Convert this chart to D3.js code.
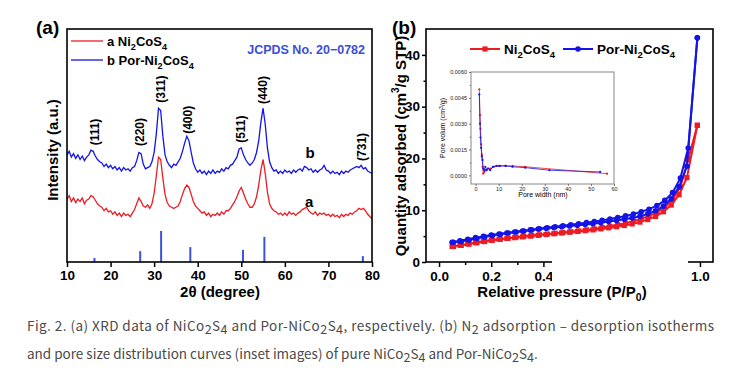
<!DOCTYPE html>
<html>
<head>
<meta charset="utf-8">
<script src="https://cdn.jsdelivr.net/npm/d3@7"></script>
<style>
  body { margin: 0; background: #fff; }
  svg { display: block; }
  .bold { font-family: "Liberation Sans", Arial, sans-serif; font-weight: bold; }
</style>
</head>
<body>
<div id="chart"></div>
<script>
// ---------- (a) XRD data, sampled every 0.5 deg from 10 to 80 ----------
var twoTheta = d3.range(10, 80.001, 0.5);

var xrdPor = [
  46, 47.5, 45, 46.5, 44.5, 46, 44, 45.5, 43.5, 45,
  46, 48, 47.5, 45.5, 44, 43, 42.5, 41, 42, 40.5,
  41.5, 40, 41, 39.5, 40.5, 39, 40.5, 39.5, 40, 39,
  40.5, 41, 43.5, 47, 46.5, 42, 40, 40.5, 41, 43,
  47, 55, 66, 65, 54, 46, 43, 41.5, 40.5, 42,
  41.5, 43, 44.5, 47.5, 51, 54, 52, 47, 42.5, 40,
  38.5, 39.5, 38, 39, 37.5, 39, 38, 39.5, 38, 39,
  38.5, 40, 39, 40.5, 40, 41.5, 42, 43.5, 45, 48.5,
  49, 46, 44, 42.5, 41.5, 42.5, 44, 47, 52, 60,
  66, 59, 49, 43, 40.5, 39, 39.5, 38, 39, 38,
  39.5, 38.5, 39, 38, 39.5, 38.5, 39.5, 40, 39, 41,
  40.5, 39.5, 40, 38.5, 39.5, 38.5, 39.5, 40, 41.5, 39.5,
  39, 38, 39, 38, 38.5, 37.5, 39, 38, 39, 38.5,
  39.5, 40, 40.5, 41, 40.5, 41.5, 40, 40.5, 39, 38.5,
  38
];

var xrdNi = [
  27, 28.5, 26, 27.5, 25.5, 27, 26, 27.5, 25, 26.5,
  27, 28.5, 28, 26.5, 25, 24, 23.5, 22, 23, 21.5,
  22, 20.5, 21.5, 20, 21, 19.5, 21, 20, 20.5, 19.5,
  21, 22.5, 25, 27.5, 26, 24, 23.5, 24.5, 23, 25,
  29.5, 37, 45, 44, 36, 29, 25.5, 24, 23.5, 23,
  23.5, 24, 26, 29, 31.5, 33, 32, 29, 26, 24,
  23, 22, 21, 21.5, 20, 21, 19.5, 20.5, 20, 21,
  20, 21.5, 20.5, 22, 22, 23, 24.5, 26, 28, 30.5,
  32, 29.5, 27, 25, 23.5, 23.5, 25, 28, 33, 39.5,
  44, 38, 30, 25, 23, 22, 21.5, 20.5, 21, 20,
  21, 20, 21.5, 20.5, 21, 20, 21, 21.5, 22.5, 23,
  23.5, 22, 21, 20.5, 21.5, 20, 21, 20.5, 21, 20,
  20.5, 19.5, 20.5, 19.5, 20, 19, 20.5, 19.5, 20.5, 20,
  21, 20.5, 21.5, 22, 23, 22.5, 23, 22, 20.5, 19.5,
  18.5
];

// JCPDS 20-0782 reference lines
var refPos = [16.3, 26.8, 31.6, 38.3, 50.4, 55.3, 77.9];
var refInt = [13, 35, 100, 48, 39, 81, 19];

// hkl labels: position (deg) and height (a.u.)
var hklText = ["(111)", "(220)", "(311)", "(400)", "(511)", "(440)", "(731)"];
var hklPos = [16.4, 26.8, 31.6, 37.8, 50.0, 55.0, 77.7];
var hklY = [55.8, 55.8, 74.2, 61, 57, 73.8, 49.4];

// ---------- (b) N2 isotherms ----------
var pAds = [0.05, 0.08, 0.11, 0.14, 0.17, 0.20, 0.23, 0.26, 0.29, 0.32, 0.35, 0.38, 0.41, 0.44, 0.47, 0.50,
            0.53, 0.56, 0.59, 0.62, 0.65, 0.68, 0.71, 0.74, 0.77, 0.80, 0.83, 0.86, 0.89, 0.92, 0.95, 0.99];
var pDes = [0.99, 0.955, 0.925, 0.895, 0.865, 0.835, 0.805, 0.775, 0.745, 0.715, 0.685, 0.655, 0.625, 0.595, 0.565, 0.535,
            0.505, 0.475, 0.445, 0.415, 0.385, 0.355, 0.325, 0.295, 0.265, 0.235, 0.205, 0.175, 0.145, 0.115, 0.085, 0.055];

var niAds = [3.0, 3.25, 3.5, 3.75, 4.0, 4.2, 4.4, 4.55, 4.7, 4.85, 5.0, 5.15, 5.3, 5.45, 5.6, 5.75,
             5.9, 6.05, 6.2, 6.4, 6.6, 6.8, 7.05, 7.35, 7.7, 8.2, 8.8, 9.7, 11.0, 13.0, 16.3, 26.4];
var niDes = [26.4, 19.8, 14.5, 12.0, 10.6, 9.6, 8.9, 8.35, 7.9, 7.5, 7.2, 6.9, 6.65, 6.4, 6.2, 6.0,
             5.85, 5.7, 5.55, 5.4, 5.25, 5.1, 4.95, 4.8, 4.6, 4.4, 4.2, 3.95, 3.7, 3.45, 3.2, 3.0];
var porAds = [3.8, 4.1, 4.4, 4.7, 4.95, 5.2, 5.4, 5.6, 5.8, 6.0, 6.2, 6.35, 6.5, 6.65, 6.8, 6.95,
              7.1, 7.25, 7.4, 7.6, 7.8, 8.0, 8.25, 8.5, 8.85, 9.3, 9.9, 10.8, 12.2, 14.5, 18.5, 43.3];
var porDes = [43.3, 22.0, 16.2, 13.4, 11.9, 10.9, 10.2, 9.7, 9.25, 8.9, 8.6, 8.3, 8.05, 7.8, 7.6, 7.4,
              7.2, 7.0, 6.8, 6.6, 6.4, 6.2, 6.0, 5.8, 5.6, 5.35, 5.1, 4.85, 4.55, 4.25, 3.95, 3.8];

// inset: pore size distribution
var niWidth = [1.6, 1.9, 2.1, 2.4, 2.7, 3.0, 3.3, 3.8, 4.4, 5.2, 6.5, 8, 10, 13, 16, 21.5, 57];
var niVol = [0.0050, 0.0035, 0.0027, 0.0018, 0.0012, 0.0005, 0.0001, 0.0002, 0.0003, 0.0004, 0.0004,
             0.0005, 0.00055, 0.00055, 0.00055, 0.0005, 0.0001];
var porWidth = [1.6, 1.9, 2.1, 2.4, 2.7, 3.0, 3.3, 3.7, 4.2, 4.8, 5.5, 6.3, 7.5, 9, 10.5, 13, 16, 21.5, 32, 54];
var porVol = [0.0047, 0.0030, 0.0022, 0.0016, 0.0011, 0.0009, 0.0004, 0.0003, 0.0005, 0.0003, 0.0004,
              0.0003, 0.0005, 0.00055, 0.00055, 0.00055, 0.0005, 0.00045, 0.0003, 0.0002];

var RED = "#ec1c24", BLUE = "#1414e6", BLUE_TXT = "#3a4ed8";

var svg = d3.select("#chart").append("svg")
  .attr("width", 743).attr("height", 376)
  .style("background", "#fff");

// text with subscript pieces: parts = [[str, isSub], ...]
function rich(g, parts, size, subScale, drop) {
  subScale = subScale || 0.7;
  drop = drop || size * 0.28;
  var shift = 0;
  parts.forEach(function(p) {
    var target = p[1] ? drop : 0;
    var t = g.append("tspan").attr("dy", target - shift).text(p[0]);
    if (p[1]) t.attr("font-size", size * subScale);
    shift = target;
  });
  return g;
}

// ================= panel (a) =================
var xA = d3.scaleLinear().domain([10, 80]).range([67, 372]);
var yA = d3.scaleLinear().domain([0, 100]).range([262, 29]);
var yStick = d3.scaleLinear().domain([0, 100]).range([262, 231]);

var gA = svg.append("g");

gA.selectAll(".stick").data(refPos).enter().append("line")
  .attr("x1", function(d) { return xA(d); }).attr("x2", function(d) { return xA(d); })
  .attr("y1", yStick(0))
  .attr("y2", function(d, i) { return yStick(refInt[i]); })
  .attr("stroke", "#3d52d5").attr("stroke-width", 2);

var lineA = function(vals) {
  return d3.line()
    .x(function(d, i) { return xA(twoTheta[i]); })
    .y(function(d) { return yA(d); })(vals);
};
gA.append("path").attr("d", lineA(xrdNi)).attr("fill", "none").attr("stroke", RED).attr("stroke-width", 1.3);
gA.append("path").attr("d", lineA(xrdPor)).attr("fill", "none").attr("stroke", BLUE).attr("stroke-width", 1.3);

gA.selectAll(".hkl").data(hklText).enter().append("text")
  .attr("class", "bold")
  .attr("font-size", 12)
  .attr("text-anchor", "middle")
  .attr("dominant-baseline", "central")
  .attr("transform", function(d, i) { return "translate(" + xA(hklPos[i]) + "," + yA(hklY[i]) + ") rotate(-90)"; })
  .text(function(d) { return d; });

gA.append("text").attr("class", "bold").attr("font-size", 15)
  .attr("x", xA(65.8)).attr("y", yA(46.8)).attr("dominant-baseline", "central").attr("text-anchor", "middle").text("b");
gA.append("text").attr("class", "bold").attr("font-size", 15)
  .attr("x", xA(65.6)).attr("y", yA(25.8)).attr("dominant-baseline", "central").attr("text-anchor", "middle").text("a");

gA.append("g").attr("class", "bold")
  .attr("transform", "translate(0,262)")
  .call(d3.axisBottom(xA).tickValues(d3.range(10, 81, 10)).tickSize(5).tickPadding(3).tickFormat(d3.format("d")))
  .call(function(g) {
    g.select(".domain").remove();
    g.selectAll("text").attr("font-size", 13.5).attr("fill", "#000")
      .attr("font-family", "Liberation Sans, Arial, sans-serif").attr("font-weight", "bold");
    g.selectAll("line").attr("stroke-width", 1.5);
  });

gA.append("rect").attr("x", 67).attr("y", 29).attr("width", 305).attr("height", 233)
  .attr("fill", "none").attr("stroke", "#000").attr("stroke-width", 1.6);

// legend (a)
gA.append("line").attr("x1", 71).attr("x2", 103).attr("y1", 41).attr("y2", 41).attr("stroke", RED).attr("stroke-width", 1.3);
gA.append("line").attr("x1", 71).attr("x2", 103).attr("y1", 60).attr("y2", 60).attr("stroke", BLUE).attr("stroke-width", 1.3);
rich(gA.append("text").attr("class", "bold").attr("font-size", 13).attr("x", 107).attr("y", 46),
  [["a Ni", 0], ["2", 1], ["CoS", 0], ["4", 1]], 13);
rich(gA.append("text").attr("class", "bold").attr("font-size", 13).attr("x", 107).attr("y", 65),
  [["b Por-Ni", 0], ["2", 1], ["CoS", 0], ["4", 1]], 13);

gA.append("text").attr("class", "bold").attr("font-size", 12.5).attr("fill", BLUE_TXT)
  .attr("x", 365).attr("y", 54).attr("text-anchor", "end").text("JCPDS No. 20\u22120782");

gA.append("text").attr("class", "bold").attr("font-size", 15)
  .attr("transform", "translate(52,150) rotate(-90)")
  .attr("text-anchor", "middle").attr("dominant-baseline", "central").text("Intensity (a.u.)");

gA.append("text").attr("class", "bold").attr("font-size", 15)
  .attr("x", 220).attr("y", 297).attr("text-anchor", "middle").text("2\u03b8 (degree)");

svg.append("text").attr("class", "bold").attr("font-size", 19).attr("x", 36).attr("y", 34).text("(a)");

// ================= panel (b) =================
var xB = d3.scaleLinear().domain([-0.05, 1.05]).range([426, 713]);
var yB = d3.scaleLinear().domain([0, 45]).range([262, 29]);
var gB = svg.append("g");

function styleAxis(g, size) {
  g.select(".domain").remove();
  g.selectAll("text").attr("font-size", size).attr("fill", "#000")
    .attr("font-family", "Liberation Sans, Arial, sans-serif").attr("font-weight", "bold");
  g.selectAll("line").attr("stroke-width", 1.5);
}

gB.append("g").attr("transform", "translate(0,262)")
  .call(d3.axisBottom(xB).tickValues([0, 0.2, 0.4, 0.6, 0.8, 1.0]).tickSize(5).tickPadding(4).tickFormat(d3.format(".1f")))
  .call(function(g) { styleAxis(g, 13.5); });
gB.append("g").attr("transform", "translate(0,262)")
  .call(d3.axisBottom(xB).tickValues([0.1, 0.3, 0.5, 0.7, 0.9]).tickSize(3).tickFormat(""))
  .call(function(g) { styleAxis(g, 13.5); });
gB.append("g").attr("transform", "translate(426,0)")
  .call(d3.axisLeft(yB).tickValues([0, 10, 20, 30, 40]).tickSize(4).tickPadding(2))
  .call(function(g) { styleAxis(g, 13.5); });
gB.append("g").attr("transform", "translate(426,0)")
  .call(d3.axisLeft(yB).tickValues([5, 15, 25, 35]).tickSize(2.5).tickFormat(""))
  .call(function(g) { styleAxis(g, 13.5); });

// isotherms
function drawIso(px, vals, color, shape) {
  var pts = vals.map(function(v, i) { return [px[i], v]; });
  gB.append("path")
    .attr("d", d3.line().x(function(d) { return xB(d[0]); }).y(function(d) { return yB(d[1]); })(pts))
    .attr("fill", "none").attr("stroke", color).attr("stroke-width", 2);
  if (shape === "square") {
    gB.selectAll(null).data(pts).enter().append("rect")
      .attr("x", function(d) { return xB(d[0]) - 2.6; }).attr("y", function(d) { return yB(d[1]) - 2.6; })
      .attr("width", 5.2).attr("height", 5.2).attr("fill", color);
  } else {
    gB.selectAll(null).data(pts).enter().append("circle")
      .attr("cx", function(d) { return xB(d[0]); }).attr("cy", function(d) { return yB(d[1]); })
      .attr("r", 2.8).attr("fill", color);
  }
}
drawIso(pAds, niAds, RED, "square");
drawIso(pDes, niDes, RED, "square");
drawIso(pAds, porAds, BLUE, "circle");
drawIso(pDes, porDes, BLUE, "circle");

gB.append("rect").attr("x", 426).attr("y", 29).attr("width", 287).attr("height", 233)
  .attr("fill", "none").attr("stroke", "#000").attr("stroke-width", 1.6);

// blotted area on the x axis of the source image
gB.append("rect").attr("x", 552).attr("y", 259).attr("width", 136).attr("height", 24).attr("fill", "#fff");

// legend (b)
gB.append("line").attr("x1", 470).attr("x2", 500).attr("y1", 49).attr("y2", 49).attr("stroke", RED).attr("stroke-width", 2);
gB.append("rect").attr("x", 482.4).attr("y", 46.4).attr("width", 5.2).attr("height", 5.2).attr("fill", RED);
gB.append("line").attr("x1", 563).attr("x2", 593).attr("y1", 49).attr("y2", 49).attr("stroke", BLUE).attr("stroke-width", 2);
gB.append("circle").attr("cx", 578).attr("cy", 49).attr("r", 2.8).attr("fill", BLUE);
rich(gB.append("text").attr("class", "bold").attr("font-size", 13.5).attr("x", 504).attr("y", 54),
  [["Ni", 0], ["2", 1], ["CoS", 0], ["4", 1]], 13.5);
rich(gB.append("text").attr("class", "bold").attr("font-size", 13.5).attr("x", 597).attr("y", 54),
  [["Por-Ni", 0], ["2", 1], ["CoS", 0], ["4", 1]], 13.5);

// y label (b)
var yl = gB.append("text").attr("class", "bold").attr("font-size", 15)
  .attr("transform", "translate(400,146) rotate(-90)")
  .attr("text-anchor", "middle").attr("dominant-baseline", "central");
yl.append("tspan").text("Quantity adsorbed (cm");
yl.append("tspan").attr("dy", -5).attr("font-size", 10).text("3");
yl.append("tspan").attr("dy", 5).text("/g STP)");

var xl = gB.append("text").attr("class", "bold").attr("font-size", 15)
  .attr("x", 562).attr("y", 297).attr("text-anchor", "middle");
xl.append("tspan").text("Relative pressure (P/P");
xl.append("tspan").attr("dy", 4).attr("font-size", 10.5).text("0");
xl.append("tspan").attr("dy", -4).text(")");

svg.append("text").attr("class", "bold").attr("font-size", 19).attr("x", 392).attr("y", 34).text("(b)");

// ---------- inset ----------
var xI = d3.scaleLinear().domain([-2, 60]).range([471, 614]);
var yI = d3.scaleLinear().domain([-0.0005, 0.006]).range([184, 72]);
var gI = svg.append("g");

gI.append("rect").attr("x", 471).attr("y", 72).attr("width", 143).attr("height", 112)
  .attr("fill", "#fff").attr("stroke", "#888").attr("stroke-width", 1);

function styleInset(g) {
  g.select(".domain").remove();
  g.selectAll("text").attr("font-size", 5.5).attr("fill", "#222")
    .attr("font-family", "Liberation Sans, Arial, sans-serif");
  g.selectAll("line").attr("stroke", "#555").attr("stroke-width", 0.8);
}
gI.append("g").attr("transform", "translate(0,184)")
  .call(d3.axisBottom(xI).tickValues(d3.range(0, 61, 10)).tickSize(2).tickPadding(1.5))
  .call(styleInset);
gI.append("g").attr("transform", "translate(471,0)")
  .call(d3.axisLeft(yI).tickValues([0, 0.0015, 0.003, 0.0045, 0.006]).tickSize(2).tickPadding(2).tickFormat(d3.format(".4f")))
  .call(styleInset);
gI.append("g").attr("transform", "translate(471,0)")
  .call(d3.axisLeft(yI).tickValues([0.00075, 0.00225, 0.00375, 0.00525]).tickSize(1.3).tickFormat(""))
  .call(styleInset);

function drawPsd(w, v, color) {
  var pts = v.map(function(d, i) { return [w[i], d]; });
  gI.append("path")
    .attr("d", d3.line().x(function(d) { return xI(d[0]); }).y(function(d) { return yI(d[1]); })(pts))
    .attr("fill", "none").attr("stroke", color).attr("stroke-width", 0.8);
  gI.selectAll(null).data(pts).enter().append("circle")
    .attr("cx", function(d) { return xI(d[0]); }).attr("cy", function(d) { return yI(d[1]); })
    .attr("r", 1.1).attr("fill", color);
}
drawPsd(niWidth, niVol, RED);
drawPsd(porWidth, porVol, BLUE);

gI.append("text").attr("font-family", "Liberation Sans, Arial, sans-serif").attr("font-size", 7)
  .attr("x", 543).attr("y", 197).attr("text-anchor", "middle").text("Pore width (nm)");
var il = gI.append("text").attr("font-family", "Liberation Sans, Arial, sans-serif").attr("font-size", 7)
  .attr("transform", "translate(445,128) rotate(-90)").attr("text-anchor", "middle");
il.append("tspan").text("Pore volum (cm");
il.append("tspan").attr("dy", -2.5).attr("font-size", 5).text("3");
il.append("tspan").attr("dy", 2.5).text("/g)");

// ---------- caption ----------
var capFont = "'Noto Sans CJK SC', 'Noto Sans', sans-serif";
function capLine(y, parts, len) {
  var t = svg.append("text").attr("x", 27).attr("y", y)
    .attr("font-family", capFont).attr("font-size", 13.5).attr("fill", "#4a4a4a");
  if (len) t.attr("textLength", len).attr("lengthAdjust", "spacing");
  rich(t, parts, 13.5, 0.93, 3);
}
capLine(331, [["Fig. 2. (a) XRD data of NiCo", 0], ["2", 1], ["S", 0], ["4", 1], [" and Por-NiCo", 0], ["2", 1], ["S", 0], ["4", 1],
  [", respectively. (b) N", 0], ["2", 1], [" adsorption \u2013 desorption isotherms", 0]], 687);
capLine(359, [["and pore size distribution curves (inset images) of pure NiCo", 0], ["2", 1], ["S", 0], ["4", 1],
  [" and Por-NiCo", 0], ["2", 1], ["S", 0], ["4", 1], [".", 0]]);
</script>
</body>
</html>
